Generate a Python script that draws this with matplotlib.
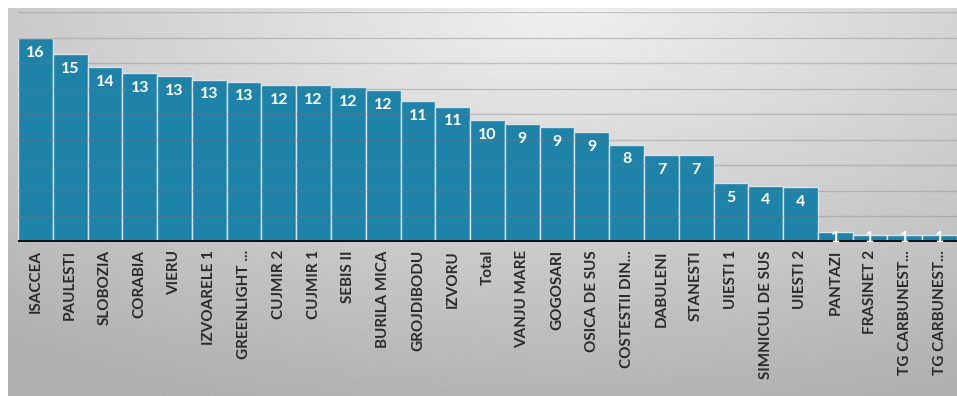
import numpy as np
import matplotlib
matplotlib.use("Agg")
import matplotlib.pyplot as plt

plt.rcParams['font.family'] = ['Lato', 'DejaVu Sans']

categories = ['ISACCEA', 'PAULESTI', 'SLOBOZIA', 'CORABIA', 'VIERU', 'IZVOARELE 1',
              'GREENLIGHT ...', 'CUJMIR 2', 'CUJMIR 1', 'SEBIS II', 'BURILA MICA',
              'GROJDIBODU', 'IZVORU', 'Total', 'VANJU MARE', 'GOGOSARI', 'OSICA DE SUS',
              'COSTESTII DIN...', 'DABULENI', 'STANESTI', 'UIESTI 1', 'SIMNICUL DE SUS',
              'UIESTI 2', 'PANTAZI', 'FRASINET 2', 'TG CARBUNEST...', 'TG CARBUNEST...']
values = [15.95, 14.7, 13.7, 13.2, 13.0, 12.7, 12.55, 12.3, 12.3, 12.1, 11.9,
          11.0, 10.6, 9.55, 9.2, 9.0, 8.6, 7.6, 6.8, 6.8, 4.6, 4.4, 4.3,
          0.75, 0.55, 0.55, 0.55]
value_labels = [str(int(v + 0.5)) for v in values]

W, H = 957, 396
fig = plt.figure(figsize=(W / 100, H / 100), dpi=100)
fig.patch.set_facecolor('white')

# gradient panel behind the chart
bg = fig.add_axes([8 / W, 0, 949 / W, 388 / H], zorder=0)
yy, xx = np.mgrid[0:1:200j, 0:1:400j]
d = np.sqrt((xx - 0.58) ** 2 + ((yy - 0.0) * 0.9) ** 2)
shade = np.clip(0.94 - 0.26 * d, 0.69, 0.95)
bg.imshow(shade, cmap='gray', vmin=0, vmax=1, aspect='auto', extent=[0, 1, 1, 0])
bg.set_axis_off()

ax = fig.add_axes([18 / W, 154.3 / H, (W - 18) / W, 229.5 / H], zorder=1)
ax.patch.set_alpha(0)
x = np.arange(len(categories))
ax.bar(x, values, width=1.0, color='#1f82a8', edgecolor='#d8e2e8', linewidth=1.0, zorder=2)

for g in range(2, 19, 2):
    ax.axhline(g, color='#7a7a7a', lw=1.0, alpha=0.35, zorder=3)
ax.axhline(0, color='#111111', lw=2.8, zorder=4)

for xi, v, lab in zip(x, values, value_labels):
    ax.annotate(lab, (xi, max(v, 1.4)), xytext=(0, -5.5), textcoords='offset points',
                ha='center', va='top', color='white', fontsize=11.5, fontweight='bold',
                zorder=5)

ax.set_xlim(-0.5, len(categories) - 0.5)
ax.set_ylim(0, 18)
ax.set_xticks(x)
ax.set_xticklabels(categories, rotation=90, fontsize=11, fontweight='bold', color='#2a2a2a')
ax.tick_params(axis='x', length=0, pad=6)
ax.set_yticks([])
for s in ax.spines.values():
    s.set_visible(False)

fig.savefig('out.png', dpi=100)
